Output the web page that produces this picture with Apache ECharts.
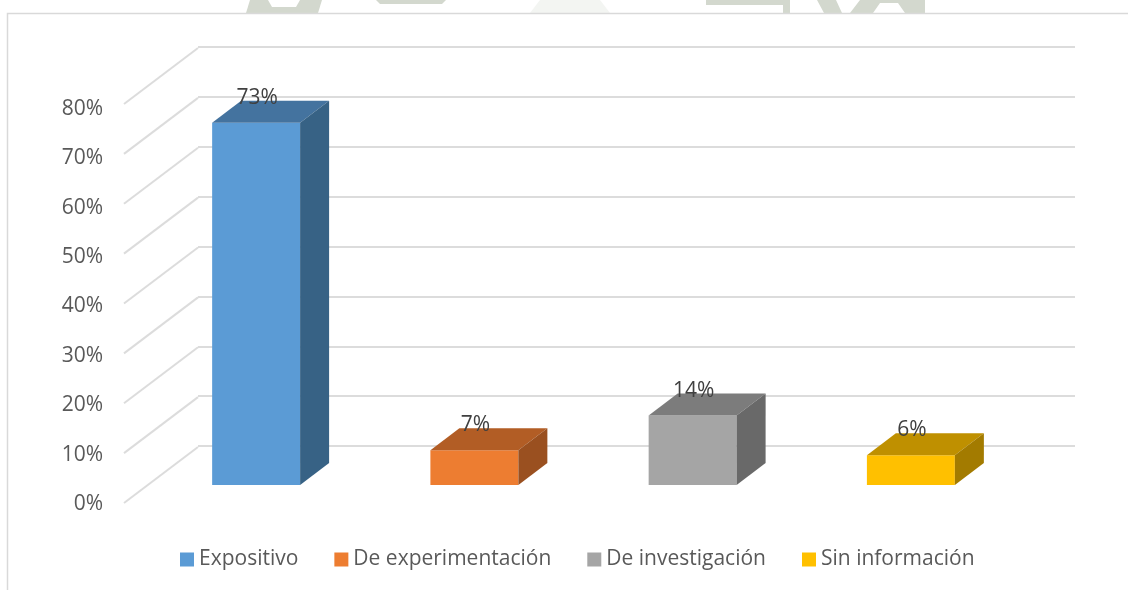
<!DOCTYPE html>
<html>
<head>
<meta charset="utf-8">
<style>
  html, body { margin: 0; padding: 0; background: #fff; }
  #chart { width: 1128px; height: 590px; }
</style>
<script src="https://cdn.jsdelivr.net/npm/echarts@6/dist/echarts.min.js"></script>
</head>
<body>
<div id="chart"></div>
<script>
var categories = ['Expositivo', 'De experimentación', 'De investigación', 'Sin información']
var values = [73, 7, 14, 6]
var frontColors = ['#5b9bd5', '#ed7d31', '#a5a5a5', '#ffc000']
var topColors = ['#44739f', '#b25d25', '#7c7c7c', '#bf9000']
var sideColors = ['#376285', '#9a5020', '#696969', '#a37b00']
var wallTicks = [0, 10, 20, 30, 40, 50, 60, 70, 80]

var fontName = '"Open Sans", sans-serif'
var depthX = 29
var depthY = 22

function renderBar(index) {
  return function(params, api) {
    var base = api.coord([index, 0])
    var top = api.coord([index, api.value(1)])
    var half = api.size([1, 0])[0] * 0.2015
    var l = base[0] - half
    var r = base[0] + half
    var dx = depthX
    var dy = depthY
    return {
      type: 'group',
      children: [
        { type: 'polygon', shape: { points: [[l, base[1]], [r, base[1]], [r, top[1]], [l, top[1]]] }, style: { fill: frontColors[index] }},
        { type: 'polygon', shape: { points: [[l, top[1]], [r, top[1]], [r + dx, top[1] - dy], [l + dx, top[1] - dy]] }, style: { fill: topColors[index] }},
        { type: 'polygon', shape: { points: [[r, base[1]], [r + dx, base[1] - dy], [r + dx, top[1] - dy], [r, top[1]]] }, style: { fill: sideColors[index] }},
        { type: 'text', x: base[0] + 1, y: top[1] - dy - 3, style: { text: api.value(1) + '%', fill: '#404040', font: '21px ' + fontName, align: 'center', verticalAlign: 'middle' }}
      ]
    }
  }
}

function renderDiagonal(params, api) {
  var p = api.coord([0, api.value(0)])
  return {
    type: 'line',
    shape: { x1: p[0], y1: p[1] + 1, x2: p[0] - 74, y2: p[1] + 57 },
    style: { stroke: '#dcdcdc', lineWidth: 2 }
  }
}

var series = [{
  type: 'custom',
  name: 'diagonal',
  xAxisIndex: 1,
  yAxisIndex: 1,
  silent: true,
  z: 1,
  renderItem: renderDiagonal,
  encode: { y: 0 },
  data: wallTicks
}]
categories.forEach(function(name, i) {
  series.push({
    type: 'custom',
    name: name,
    xAxisIndex: 0,
    yAxisIndex: 0,
    z: 3,
    itemStyle: { color: frontColors[i] },
    renderItem: renderBar(i),
    encode: { x: 0, y: 1 },
    data: [[i, values[i]]]
  })
})

// faint scanned watermark above the chart frame
var stamp = '#d3d8ce'
var chart = echarts.init(document.getElementById('chart'))
chart.setOption({
  animation: false,
  backgroundColor: '#fff',
  legend: {
    data: categories,
    left: 180,
    top: 549,
    padding: 0,
    itemWidth: 14,
    itemHeight: 14,
    itemGap: 36,
    icon: 'rect',
    textStyle: { fontFamily: fontName, fontSize: 21, color: '#595959' }
  },
  grid: [
    { left: 147, width: 873, top: 88, height: 397 },
    { left: 198, right: 53, top: 47, height: 399 },
    { left: 124, width: 10, top: 109, height: 395 }
  ],
  xAxis: [
    { gridIndex: 0, type: 'category', data: categories, show: false },
    { gridIndex: 1, type: 'value', min: 0, max: 1, show: false },
    { gridIndex: 2, type: 'value', min: 0, max: 1, show: false }
  ],
  yAxis: [
    { gridIndex: 0, type: 'value', min: 0, max: 80, show: false },
    {
      gridIndex: 1,
      type: 'value',
      min: 0,
      max: 80,
      interval: 10,
      axisLine: { show: false },
      axisTick: { show: false },
      axisLabel: { show: false },
      splitLine: { lineStyle: { color: '#dcdcdc', width: 2 }}
    },
    {
      gridIndex: 2,
      type: 'value',
      min: 0,
      max: 80,
      interval: 10,
      axisLine: { show: false },
      axisTick: { show: false },
      splitLine: { show: false },
      axisLabel: {
        margin: 21,
        formatter: '{value}%',
        fontFamily: fontName,
        fontSize: 21,
        color: '#595959'
      }
    }
  ],
  series: series,
  graphic: [
    { type: 'polygon', silent: true, shape: { points: [[246, 13], [250, 0], [322, 0], [318, 13]] }, style: { fill: stamp }},
    { type: 'polygon', silent: true, shape: { points: [[268, 0], [300, 0], [296, 7], [272, 7]] }, style: { fill: '#fff' }},
    { type: 'polygon', silent: true, shape: { points: [[376, 0], [446, 0], [442, 4], [380, 4]] }, style: { fill: stamp }},
    { type: 'polygon', silent: true, shape: { points: [[530, 13], [540, 0], [600, 0], [610, 13]] }, style: { fill: '#f3f5f2' }},
    { type: 'polygon', silent: true, shape: { points: [[706, 0], [790, 0], [790, 13], [783, 13], [783, 5], [706, 5]] }, style: { fill: stamp }},
    { type: 'polygon', silent: true, shape: { points: [[817, 0], [836, 0], [842, 13], [824, 13]] }, style: { fill: stamp }},
    { type: 'polygon', silent: true, shape: { points: [[860, 0], [925, 0], [925, 13], [905, 13], [898, 3], [880, 3], [873, 13], [850, 13]] }, style: { fill: stamp }},
    { type: 'polyline', silent: true, shape: { points: [[7.5, 590], [7.5, 13.5], [1128, 13.5]] }, style: { stroke: '#d9d9d9', lineWidth: 1.5, fill: null }}
  ]
})
</script>
</body>
</html>
